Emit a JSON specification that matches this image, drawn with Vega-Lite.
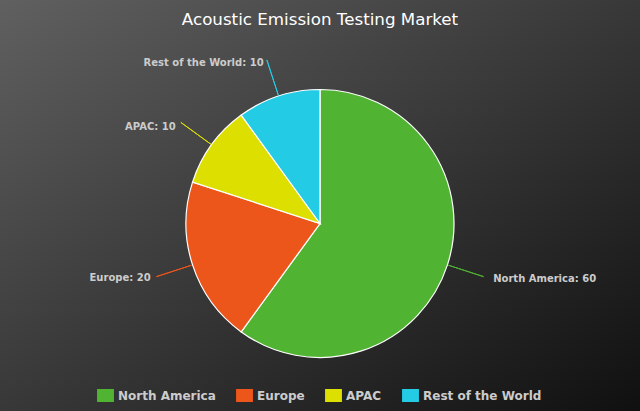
{
  "$schema": "https://vega.github.io/schema/vega-lite/v6.json",
  "width": 640,
  "height": 411,
  "autosize": {"type": "fit", "contains": "padding"},
  "padding": 0,
  "background": "#3a3a3a",
  "view": {
    "stroke": null,
    "fill": {
      "gradient": "linear",
      "x1": 0, "y1": 0, "x2": 1, "y2": 1,
      "stops": [
        {"offset": 0, "color": "#606060"},
        {"offset": 1, "color": "#101010"}
      ]
    }
  },
  "config": {
    "legend": {
      "orient": "bottom",
      "direction": "horizontal",
      "offset": -22,
      "padding": 0,
      "layout": {"bottom": {"anchor": "middle", "direction": "horizontal"}},
      "symbolType": "M-1.3,-1H1.3V1H-1.3Z",
      "symbolSize": 169,
      "symbolStrokeWidth": 0,
      "labelFont": "DejaVu Sans",
      "labelFontSize": 12,
      "labelFontWeight": "bold",
      "labelColor": "#cccccc",
      "labelOffset": 6,
      "columnPadding": 20
    }
  },
  "title": {
    "text": "Acoustic Emission Testing Market",
    "font": "DejaVu Sans",
    "fontSize": 16.7,
    "fontWeight": "normal",
    "color": "#ffffff",
    "anchor": "middle",
    "offset": -29
  },
  "data": {
    "values": [
      {"region": "North America", "value": 60, "i": 1},
      {"region": "Europe", "value": 20, "i": 2},
      {"region": "APAC", "value": 10, "i": 3},
      {"region": "Rest of the World", "value": 10, "i": 4}
    ]
  },
  "transform": [
    {"window": [{"op": "sum", "field": "value", "as": "cum"}], "sort": [{"field": "i"}], "frame": [null, 0]},
    {"calculate": "datum.cum - datum.value / 2", "as": "mid"},
    {"calculate": "datum.region + ': ' + datum.value", "as": "label"}
  ],
  "encoding": {
    "color": {
      "field": "region",
      "type": "nominal",
      "scale": {
        "domain": ["North America", "Europe", "APAC", "Rest of the World"],
        "range": ["#50B432", "#ED561B", "#DDDF00", "#24CBE5"]
      },
      "legend": {"title": null}
    }
  },
  "layer": [
    {
      "mark": {"type": "arc", "outerRadius": 134, "stroke": "#ffffff", "strokeWidth": 1.2, "yOffset": 18},
      "encoding": {
        "theta": {"field": "value", "type": "quantitative", "stack": true, "scale": {"domain": [0, 100]}},
        "order": {"field": "i", "type": "quantitative"}
      }
    },
    {
      "mark": {"type": "arc", "filled": false, "outerRadius": 172, "innerRadius": 135, "strokeWidth": 1, "yOffset": 18},
      "encoding": {
        "theta": {"field": "mid", "type": "quantitative", "stack": null, "scale": {"domain": [0, 100]}},
        "theta2": {"field": "mid"}
      }
    },
    {
      "transform": [{"filter": "datum.mid < 50"}],
      "mark": {"type": "text", "align": "left", "baseline": "middle", "radius": 180, "yOffset": 18, "dx": 2, "font": "DejaVu Sans", "fontSize": 10, "fontWeight": "bold"},
      "encoding": {
        "theta": {"field": "mid", "type": "quantitative", "stack": null, "scale": {"domain": [0, 100]}},
        "text": {"field": "label"},
        "color": {"value": "#cccccc"}
      }
    },
    {
      "transform": [{"filter": "datum.mid >= 50 && datum.mid < 75"}],
      "mark": {"type": "text", "align": "right", "baseline": "middle", "radius": 176, "yOffset": 18, "dx": -2, "font": "DejaVu Sans", "fontSize": 10, "fontWeight": "bold"},
      "encoding": {
        "theta": {"field": "mid", "type": "quantitative", "stack": null, "scale": {"domain": [0, 100]}},
        "text": {"field": "label"},
        "color": {"value": "#cccccc"}
      }
    },
    {
      "transform": [{"filter": "datum.mid >= 75"}],
      "mark": {"type": "text", "align": "right", "baseline": "middle", "radius": 176, "yOffset": 25, "dx": -2, "font": "DejaVu Sans", "fontSize": 10, "fontWeight": "bold"},
      "encoding": {
        "theta": {"field": "mid", "type": "quantitative", "stack": null, "scale": {"domain": [0, 100]}},
        "text": {"field": "label"},
        "color": {"value": "#cccccc"}
      }
    }
  ]
}
